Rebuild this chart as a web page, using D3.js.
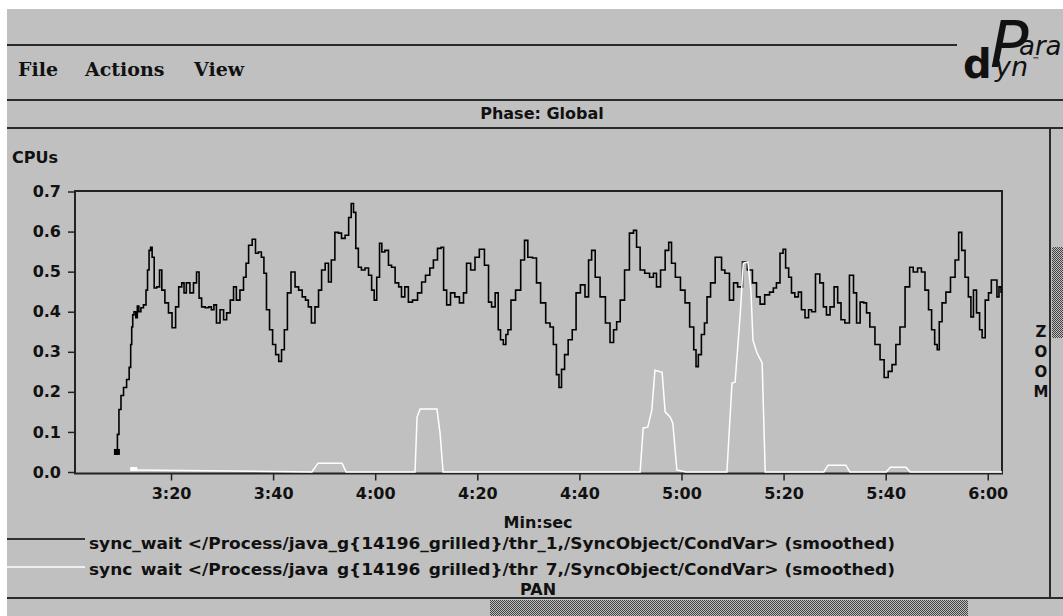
<!DOCTYPE html>
<html>
<head>
<meta charset="utf-8">
<script src="https://cdn.jsdelivr.net/npm/d3@7"></script>
<style>
  body { margin: 0; background: #fff; }
  svg { display: block; }
  .axis text { font-family: "DejaVu Sans", sans-serif; font-weight: bold; font-size: 16px; fill: #111; }
  .axis line { stroke: #222; stroke-width: 1.5; }
  .axis path { display: none; }
  .lbl { font-family: "DejaVu Sans", sans-serif; font-weight: bold; fill: #111; }
  .menu { font-family: "DejaVu Serif", serif; font-weight: bold; font-size: 19px; fill: #111; }
</style>
</head>
<body>
<div id="paradyn"></div>
<script>
// thr_1 sync_wait (seconds, CPUs)
var thr1Series = [
  [189.4,0.050],[189.6,0.094],[190.0,0.156],[190.4,0.191],[191.0,0.211],[191.6,0.231],[192.0,0.261],
  [192.2,0.318],[192.4,0.362],[192.6,0.392],[192.9,0.400],[193.3,0.385],[193.5,0.414],[193.9,0.400],
  [194.3,0.410],[194.9,0.417],[195.3,0.454],[195.5,0.504],[195.9,0.553],[196.1,0.561],[196.5,0.536],
  [196.9,0.459],[197.5,0.462],[198.0,0.504],[198.4,0.454],[199.2,0.422],[199.8,0.397],[200.6,0.360],
  [201.2,0.412],[201.8,0.462],[202.4,0.472],[202.7,0.447],[203.3,0.472],[204.1,0.447],[204.7,0.472],
  [205.3,0.499],[205.7,0.434],[206.3,0.412],[207.1,0.410],[207.6,0.412],[208.2,0.405],[208.6,0.417],
  [209.2,0.372],[210.0,0.405],[210.6,0.380],[211.2,0.397],[212.0,0.429],[212.5,0.462],[213.1,0.429],
  [213.9,0.454],[214.5,0.486],[214.9,0.521],[215.5,0.566],[216.3,0.581],[216.8,0.546],[217.4,0.549],
  [218.0,0.536],[218.4,0.496],[219.0,0.405],[219.6,0.355],[220.2,0.318],[220.8,0.293],[221.4,0.276],
  [221.9,0.305],[222.5,0.355],[223.1,0.447],[223.9,0.499],[224.7,0.462],[225.3,0.454],[226.1,0.437],
  [226.6,0.429],[227.2,0.412],[227.8,0.372],[228.6,0.412],[229.2,0.454],[229.8,0.504],[230.6,0.521],
  [231.1,0.474],[231.7,0.529],[232.5,0.598],[233.1,0.596],[233.7,0.583],[234.5,0.591],[235.1,0.635],
  [235.5,0.670],[236.0,0.648],[236.4,0.558],[237.0,0.511],[237.6,0.504],[238.4,0.509],[239.0,0.491],
  [239.6,0.454],[240.0,0.429],[240.6,0.486],[241.1,0.571],[241.5,0.549],[242.3,0.553],[242.9,0.516],
  [243.5,0.511],[244.3,0.472],[244.9,0.462],[245.4,0.437],[246.2,0.462],[246.8,0.424],[247.8,0.429],
  [248.8,0.447],[249.4,0.474],[250.3,0.491],[251.1,0.509],[251.7,0.529],[252.7,0.558],[253.1,0.561],
  [253.7,0.454],[254.3,0.417],[255.2,0.447],[256.0,0.437],[257.0,0.422],[257.6,0.447],[258.2,0.521],
  [259.2,0.504],[259.9,0.536],[260.9,0.556],[261.9,0.516],[262.5,0.424],[263.1,0.412],[263.9,0.447],
  [264.3,0.355],[264.8,0.330],[265.4,0.318],[265.8,0.343],[266.2,0.355],[267.0,0.429],[268.0,0.454],
  [269.0,0.529],[269.5,0.578],[270.3,0.536],[271.3,0.534],[271.9,0.472],[272.9,0.422],[273.9,0.372],
  [274.6,0.362],[275.2,0.318],[275.8,0.243],[276.2,0.211],[276.8,0.256],[277.4,0.293],[278.2,0.330],
  [279.0,0.355],[279.7,0.447],[280.7,0.467],[281.5,0.437],[282.1,0.529],[282.7,0.553],[283.5,0.486],
  [284.6,0.437],[285.6,0.372],[286.4,0.323],[287.0,0.355],[287.6,0.375],[288.4,0.429],[289.3,0.504],
  [290.3,0.596],[290.9,0.603],[291.5,0.561],[292.3,0.504],[293.3,0.496],[294.2,0.486],[294.8,0.496],
  [295.4,0.462],[296.4,0.504],[297.2,0.553],[297.8,0.573],[298.3,0.521],[299.3,0.486],[300.3,0.454],
  [301.1,0.422],[302.1,0.362],[302.7,0.305],[303.0,0.263],[303.6,0.293],[304.2,0.343],[304.8,0.372],
  [305.2,0.437],[306.2,0.472],[307.0,0.536],[307.6,0.536],[308.1,0.504],[308.9,0.496],[309.9,0.429],
  [310.5,0.472],[311.5,0.462],[312.4,0.524],[313.4,0.504],[314.4,0.472],[315.0,0.437],[315.8,0.419],
  [316.8,0.442],[317.7,0.449],[318.3,0.459],[318.9,0.472],[319.7,0.546],[320.1,0.556],[320.7,0.509],
  [321.3,0.486],[321.8,0.447],[322.6,0.437],[323.2,0.449],[323.8,0.405],[324.6,0.385],[325.2,0.405],
  [325.8,0.400],[326.7,0.494],[327.5,0.472],[328.1,0.412],[328.7,0.392],[329.5,0.412],[330.3,0.462],
  [330.9,0.422],[331.6,0.380],[332.4,0.372],[333.4,0.491],[334.0,0.447],[334.6,0.372],[335.4,0.424],
  [336.0,0.422],[336.5,0.397],[337.3,0.362],[338.5,0.318],[339.3,0.280],[340.1,0.236],[340.9,0.251],
  [341.6,0.268],[342.4,0.318],[343.2,0.362],[344.4,0.462],[345.0,0.511],[345.8,0.499],[346.7,0.509],
  [347.3,0.499],[348.1,0.454],[348.7,0.405],[349.3,0.355],[349.9,0.318],[350.3,0.305],[350.7,0.375],
  [351.4,0.422],[352.2,0.449],[353.2,0.486],[354.0,0.529],[354.6,0.598],[355.2,0.553],[355.9,0.486],
  [356.5,0.437],[356.9,0.387],[357.5,0.454],[358.1,0.397],[358.7,0.355],[359.1,0.335],[359.9,0.429],
  [360.4,0.447],[361.0,0.479],[361.6,0.479],[362.0,0.437],[362.4,0.462],[362.8,0.449]
];

// thr_7 sync_wait (seconds, CPUs)
var thr7Series = [
  [192.6,0.005],[227.6,0],[228.8,0.022],[233.5,0.022],[234.3,0],
  [247.8,0],[248.2,0.137],[248.8,0.157],[252.1,0.157],[252.3,0.137],[252.7,0.097],[253.3,0],
  [291.9,0],[292.5,0.110],[293.4,0.112],[294.2,0.155],[294.8,0.254],[296.2,0.249],[296.8,0.150],
  [297.8,0.137],[298.3,0.122],[299.1,0.005],[300.9,0],
  [308.9,0],[309.9,0.222],[310.5,0.224],[311.5,0.392],[312.1,0.521],[313.0,0.524],[313.6,0.454],
  [314.0,0.329],[314.8,0.297],[315.8,0.272],[316.4,0],
  [327.9,0],[328.7,0.017],[332.2,0.017],[333.0,0],
  [340.1,0],[340.9,0.012],[344.0,0.012],[344.8,0],[362.8,0]
];

var xTicks = [200, 220, 240, 260, 280, 300, 320, 340, 360];
var yTicks = [0, 0.1, 0.2, 0.3, 0.4, 0.5, 0.6, 0.7];
var menuItems = ["File", "Actions", "View"];
var legendLabels = [
  "sync_wait </Process/java_g{14196_grilled}/thr_1,/SyncObject/CondVar> (smoothed)",
  "sync_wait </Process/java_g{14196_grilled}/thr_7,/SyncObject/CondVar> (smoothed)"
];
var legendColors = ["#000", "#fff"];

var svg = d3.select("#paradyn").append("svg")
    .attr("width", 1063)
    .attr("height", 616);

var defs = svg.append("defs");
var pat = defs.append("pattern")
    .attr("id", "dither")
    .attr("width", 2).attr("height", 2)
    .attr("patternUnits", "userSpaceOnUse");
pat.append("rect").attr("width", 2).attr("height", 2).attr("fill", "#c0c0c0");
pat.append("rect").attr("width", 1).attr("height", 1).attr("fill", "#404040");
pat.append("rect").attr("x", 1).attr("y", 1).attr("width", 1).attr("height", 1).attr("fill", "#404040");

// window chrome
svg.append("rect").attr("width", 1063).attr("height", 616).attr("fill", "#c0c0c0");
svg.append("rect").attr("width", 1063).attr("height", 9).attr("fill", "#fff");
svg.append("rect").attr("width", 7).attr("height", 616).attr("fill", "#fff");

var rules = [[7, 45, 957, 45], [7, 100, 1063, 100], [7, 128, 1063, 128],
             [1050, 128, 1050, 598], [7, 598, 1063, 598]];
svg.selectAll(".rule")
  .data(rules)
  .enter().append("line")
    .attr("class", "rule")
    .attr("x1", function(d) { return d[0]; })
    .attr("y1", function(d) { return d[1]; })
    .attr("x2", function(d) { return d[2]; })
    .attr("y2", function(d) { return d[3]; })
    .attr("stroke", "#2a2a2a")
    .attr("stroke-width", 2);

var menuX = [18, 85, 194];
svg.selectAll(".menu")
  .data(menuItems)
  .enter().append("text")
    .attr("class", "menu")
    .attr("x", function(d, i) { return menuX[i]; })
    .attr("y", 76)
    .text(function(d) { return d; });

// logo, one text element built from pieces
var logo = svg.append("text").attr("fill", "#111").style("font-family", "'DejaVu Sans', sans-serif");
logo.append("tspan").attr("x", 990).attr("y", 67).style("font-size", "64px").style("font-style", "italic").text("P");
logo.append("tspan").attr("x", 1019).attr("y", 55).style("font-size", "26px").style("font-style", "italic").text("ara");
logo.append("tspan").attr("x", 963).attr("y", 78).style("font-size", "40px").style("font-weight", "bold").text("d");
logo.append("tspan").attr("x", 995).attr("y", 76).style("font-size", "27px").style("font-style", "italic").text("yn");
logo.append("tspan").attr("x", 1032).attr("y", 63).style("font-size", "8px").text("\u2122");

svg.append("text").attr("class", "lbl")
  .attr("x", 542).attr("y", 119)
  .attr("text-anchor", "middle")
  .style("font-size", "16px")
  .text("Phase: Global");

// scrollbars
svg.append("rect").attr("x", 490).attr("y", 600).attr("width", 478).attr("height", 16).attr("fill", "url(#dither)");
svg.append("rect").attr("x", 1052).attr("y", 247).attr("width", 11).attr("height", 91).attr("fill", "url(#dither)");
svg.selectAll(".zoomch")
  .data(["Z", "O", "O", "M"])
  .enter().append("text")
    .attr("class", "lbl zoomch")
    .attr("x", 1041)
    .attr("y", function(d, i) { return 337 + i * 20; })
    .attr("text-anchor", "middle")
    .style("font-size", "15px")
    .text(function(d) { return d; });

// plot
var xScale = d3.scaleLinear().domain([181.19, 362.79]).range([75, 1002]),
    yScale = d3.scaleLinear().domain([0, 0.7]).range([472, 191.5]);

var fmtTime = function(s) { var m = Math.floor(s / 60), r = Math.round(s - m * 60); return m + ":" + (r < 10 ? "0" : "") + r; };

svg.append("g")
  .attr("class", "axis axis--x")
  .attr("transform", "translate(0,473.5)")
  .call(d3.axisBottom(xScale).tickValues(xTicks).tickSize(7).tickPadding(7).tickFormat(fmtTime));

svg.append("g")
  .attr("class", "axis axis--y")
  .attr("transform", "translate(75,0)")
  .call(d3.axisLeft(yScale).tickValues(yTicks).tickSize(7).tickPadding(7).tickFormat(d3.format(".1f")));

svg.append("rect")
  .attr("x", 75).attr("y", 191)
  .attr("width", 927).attr("height", 282.5)
  .attr("fill", "none")
  .attr("stroke", "#222")
  .attr("stroke-width", 2);

svg.append("text").attr("class", "lbl")
  .attr("x", 12).attr("y", 163)
  .style("font-size", "16px")
  .text("CPUs");

var stepLine = d3.line()
  .x(function(d) { return xScale(d[0]); })
  .y(function(d) { return yScale(d[1]); })
  .curve(d3.curveStep);
var plainLine = d3.line()
  .x(function(d) { return xScale(d[0]); })
  .y(function(d) { return yScale(d[1]); });

svg.append("path")
  .datum(thr1Series)
  .attr("d", stepLine)
  .attr("fill", "none")
  .attr("stroke", "#000")
  .attr("stroke-width", 1.6);

svg.append("path")
  .datum(thr7Series)
  .attr("d", plainLine)
  .attr("fill", "none")
  .attr("stroke", "#fff")
  .attr("stroke-width", 1.5);

// start markers
svg.append("rect")
  .attr("x", xScale(thr1Series[0][0]) - 3).attr("y", yScale(thr1Series[0][1]) - 3)
  .attr("width", 6).attr("height", 6).attr("fill", "#000");
svg.append("rect")
  .attr("x", xScale(thr7Series[0][0]) - 3).attr("y", yScale(thr7Series[0][1]) - 3)
  .attr("width", 7).attr("height", 4).attr("fill", "#fff");

svg.append("text").attr("class", "lbl")
  .attr("x", 538).attr("y", 528)
  .attr("text-anchor", "middle")
  .style("font-size", "16px")
  .text("Min:sec");

// legend; the second row's underscores are hidden in the original window
var legY = [539, 567], legTextY = [549, 575], hideUnderscore = [false, true];
var leg = svg.selectAll(".leg")
  .data(legendLabels)
  .enter().append("g")
    .attr("class", "leg");
leg.append("line")
  .attr("x1", 7).attr("x2", 85)
  .attr("y1", function(d, i) { return legY[i]; })
  .attr("y2", function(d, i) { return legY[i]; })
  .attr("stroke", function(d, i) { return legendColors[i]; })
  .attr("stroke-width", 1.5);
leg.append("text")
  .attr("class", "lbl")
  .attr("x", 89)
  .attr("y", function(d, i) { return legTextY[i]; })
  .attr("textLength", 806)
  .attr("lengthAdjust", "spacingAndGlyphs")
  .style("font-size", "16px")
  .each(function(d, i) {
    var t = d3.select(this);
    d.split(/(_)/).forEach(function(part) {
      var sp = t.append("tspan").text(part);
      if (part == "_" && hideUnderscore[i]) sp.attr("fill-opacity", 0);
    });
  });

svg.append("text").attr("class", "lbl")
  .attr("x", 538).attr("y", 595)
  .attr("text-anchor", "middle")
  .style("font-size", "16px")
  .text("PAN");
</script>
</body>
</html>
